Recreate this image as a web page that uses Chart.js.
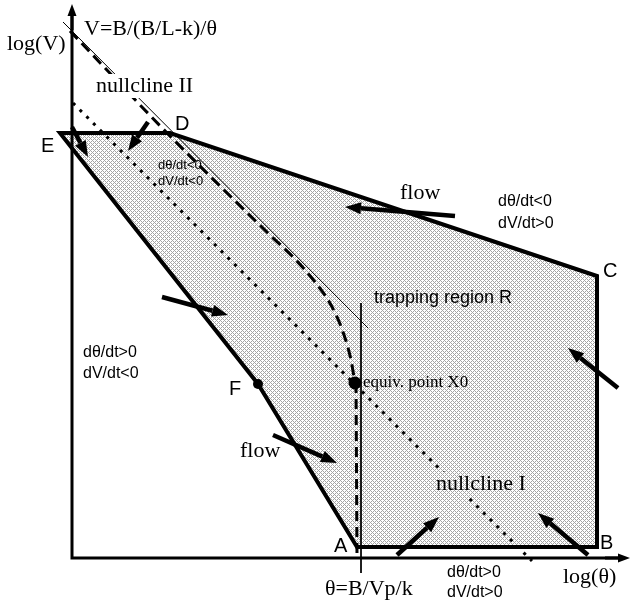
<!DOCTYPE html>
<html>
<head>
<meta charset="utf-8">
<script src="https://cdn.jsdelivr.net/npm/chart.js@4/dist/chart.umd.min.js"></script>
<style>
  body { margin: 0; background: #fff; }
  canvas { display: block; }
</style>
</head>
<body>
<canvas id="diagrama" width="630" height="606"></canvas>
<script>
// Region de atrapamiento: E, D, C, B, A, F (y se cierra en E -> D)
const regionX = [60, 170, 597, 597, 357, 258, 60, 170];
const regionY = [133, 133, 276, 547, 547, 384, 133, 133];

// Asintota V=B/(B/L-k)/theta (linea fina)
const asintotaX = [63, 368];
const asintotaY = [22, 328];

// Nullcline II (curva a trazos) y su tramo vertical
const nullcline2X = [70, 170, 270, 295, 315, 331, 343, 351, 355];
const nullcline2Y = [31, 136, 235, 259, 282, 305, 332, 360, 383];
const vertical2X = [356, 357];
const vertical2Y = [383, 555];

// Nullcline I (punteada)
const nullcline1X = [73, 532];
const nullcline1Y = [103, 561];

// theta = B/Vp/k (linea fina vertical)
const thetaX = [361, 361];
const thetaY = [303, 573];

// Ejes
const ejeX = [72, 72, 620];
const ejeY = [15, 558, 558];

// Puntos F y X0
const puntoF = [258, 384];
const puntoX0 = [355, 383];

// Flechas de flujo: [x cola, y cola, x punta, y punta]
const flechas = [
  [148, 122, 128, 151],
  [72, 127, 88, 157],
  [455, 216, 345, 207],
  [162, 297, 228, 315],
  [273, 435, 337, 463],
  [618, 388, 568, 348],
  [397, 555, 439, 517],
  [588, 555, 538, 513],
];
// Puntas de los ejes
const flechasEjes = [
  [72, 30, 72, 4],
  [605, 558, 630, 558],
];

// Textos: [texto, x, y(base), tipo]
const textos = [
  ["log(V)", 7, 50, "serif"],
  ["V=B/(B/L-k)/\u03b8", 84, 35, "serifBg"],
  ["nullcline II", 96, 92, "serifBg"],
  ["D", 175, 130, "letra"],
  ["E", 41, 152, "letra"],
  ["d\u03b8/dt<0", 158, 169, "chico"],
  ["dV/dt<0", 158, 185, "chico"],
  ["flow", 400, 199, "serif"],
  ["d\u03b8/dt<0", 498, 206, "sans"],
  ["dV/dt>0", 498, 228, "sans"],
  ["C", 603, 277, "letra"],
  ["trapping region R", 374, 303, "region"],
  ["d\u03b8/dt>0", 83, 357, "sans"],
  ["dV/dt<0", 83, 378, "sans"],
  ["F", 229, 395, "letra"],
  ["flow", 240, 457, "serif"],
  ["equiv. point X0", 363, 387, "serifChico"],
  ["nullcline I", 436, 490, "serifTrama"],
  ["A", 334, 552, "letra"],
  ["B", 600, 549, "letra"],
  ["\u03b8=B/Vp/k", 325, 595, "serif"],
  ["d\u03b8/dt>0", 447, 577, "sans"],
  ["dV/dt>0", 447, 597, "sans"],
  ["log(\u03b8)", 563, 583, "serif"],
];

const pts = (xs, ys) => xs.map((x, i) => ({ x: x, y: ys[i] }));

// Trama gris cruzada
function crearTrama() {
  const c = document.createElement("canvas");
  c.width = 4;
  c.height = 4;
  const g = c.getContext("2d");
  g.fillStyle = "#fff";
  g.fillRect(0, 0, 4, 4);
  g.fillStyle = "#a4a4a4";
  [[0, 0], [1, 1], [2, 2], [3, 3], [1, 3], [3, 1]].forEach(([x, y]) =>
    g.fillRect(x, y, 1, 1),
  );
  return g.createPattern(c, "repeat");
}
const trama = crearTrama();

const estilos = {
  serif: { font: "22px 'Liberation Serif'" },
  serifBg: { font: "22px 'Liberation Serif'", bg: "#fff" },
  serifTrama: { font: "22px 'Liberation Serif'", bg: trama },
  serifChico: { font: "17px 'Liberation Serif'" },
  sans: { font: "16px 'Liberation Sans'" },
  chico: { font: "13px 'Liberation Sans'" },
  letra: { font: "20px 'Liberation Sans'" },
  region: { font: "18px 'Liberation Sans'" },
};

function flecha(ctx, x1, y1, x2, y2, largo, ancho, grosor) {
  const ang = Math.atan2(y2 - y1, x2 - x1);
  const bx = x2 - largo * Math.cos(ang);
  const by = y2 - largo * Math.sin(ang);
  ctx.lineWidth = grosor;
  ctx.lineCap = "butt";
  ctx.beginPath();
  ctx.moveTo(x1, y1);
  ctx.lineTo(bx, by);
  ctx.stroke();
  ctx.beginPath();
  ctx.moveTo(x2, y2);
  ctx.lineTo(bx + ancho * Math.sin(ang), by - ancho * Math.cos(ang));
  ctx.lineTo(bx - ancho * Math.sin(ang), by + ancho * Math.cos(ang));
  ctx.closePath();
  ctx.fill();
}

const anotaciones = {
  id: "anotaciones",
  afterDatasetsDraw(chart) {
    const { ctx } = chart;
    const sx = chart.scales.x;
    const sy = chart.scales.y;
    ctx.save();
    ctx.fillStyle = "#000";
    ctx.strokeStyle = "#000";
    flechasEjes.forEach((f) =>
      flecha(ctx, sx.getPixelForValue(f[0]), sy.getPixelForValue(f[1]),
        sx.getPixelForValue(f[2]), sy.getPixelForValue(f[3]), 12, 4.5, 3),
    );
    // Textos
    ctx.textBaseline = "alphabetic";
    ctx.textAlign = "left";
    textos.forEach(([t, x, y, tipo]) => {
      const e = estilos[tipo];
      ctx.font = e.font;
      const px = sx.getPixelForValue(x);
      const py = sy.getPixelForValue(y);
      if (e.bg) {
        const w = ctx.measureText(t).width;
        ctx.fillStyle = e.bg;
        ctx.fillRect(px - 2, py - 18, w + 4, 24);
      }
      ctx.fillStyle = "#000";
      ctx.fillText(t, px, py);
    });
    flechas.forEach((f) =>
      flecha(ctx, sx.getPixelForValue(f[0]), sy.getPixelForValue(f[1]),
        sx.getPixelForValue(f[2]), sy.getPixelForValue(f[3]), 16, 6, 4.5),
    );
    ctx.restore();
  },
};

new Chart(document.getElementById("diagrama"), {
  type: "scatter",
  data: {
    datasets: [
      {
        data: [{ x: puntoF[0], y: puntoF[1] }],
        pointRadius: 5,
        backgroundColor: "#000",
        borderWidth: 0,
        order: 0,
      },
      {
        data: [{ x: puntoX0[0], y: puntoX0[1] }],
        pointRadius: 6.5,
        backgroundColor: "#000",
        borderWidth: 0,
        order: 0,
      },
      {
        data: pts(ejeX, ejeY),
        showLine: true,
        borderColor: "#000",
        borderWidth: 3,
        pointRadius: 0,
        order: 1,
      },
      {
        data: pts(thetaX, thetaY),
        showLine: true,
        borderColor: "#000",
        borderWidth: 1,
        pointRadius: 0,
        order: 2,
      },
      {
        data: pts(nullcline1X, nullcline1Y),
        showLine: true,
        borderColor: "#000",
        borderWidth: 3,
        borderDash: [3, 6.5],
        pointRadius: 0,
        order: 3,
      },
      {
        data: pts(vertical2X, vertical2Y),
        showLine: true,
        borderColor: "#000",
        borderWidth: 3,
        borderDash: [10, 6],
        pointRadius: 0,
        order: 4,
      },
      {
        data: pts(nullcline2X, nullcline2Y),
        showLine: true,
        borderColor: "#000",
        borderWidth: 3,
        borderDash: [11, 6],
        cubicInterpolationMode: "monotone",
        pointRadius: 0,
        order: 5,
      },
      {
        data: pts(asintotaX, asintotaY),
        showLine: true,
        borderColor: "#000",
        borderWidth: 1,
        pointRadius: 0,
        order: 6,
      },
      {
        data: pts(regionX, regionY),
        showLine: true,
        borderColor: "#000",
        borderWidth: 4,
        borderJoinStyle: "miter",
        backgroundColor: trama,
        fill: "shape",
        pointRadius: 0,
        order: 10,
      },
    ],
  },
  options: {
    responsive: false,
    animation: false,
    events: [],
    layout: { padding: 0, autoPadding: false },
    plugins: {
      legend: { display: false },
      tooltip: { enabled: false },
    },
    scales: {
      x: { type: "linear", min: 0, max: 630, display: false },
      y: { type: "linear", min: 0, max: 606, reverse: true, display: false },
    },
  },
  plugins: [anotaciones],
});
</script>
</body>
</html>
